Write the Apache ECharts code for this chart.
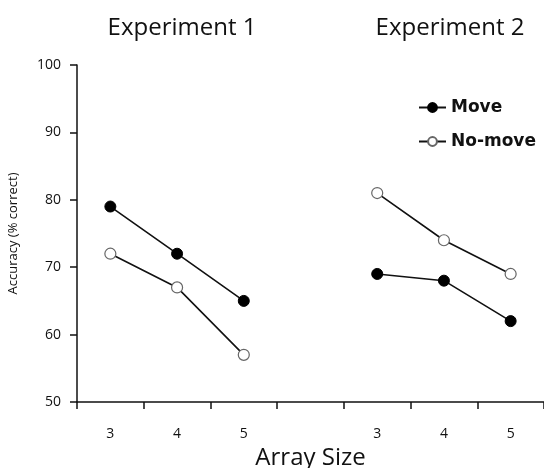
<!DOCTYPE html>
<html>
<head>
<meta charset="utf-8">
<script src="https://cdn.jsdelivr.net/npm/echarts@6/dist/echarts.min.js"></script>
<style>html,body{margin:0;padding:0;background:#fff}#c{width:544px;height:468px}</style>
</head>
<body>
<div id="c"></div>
<script>
var categories = ['3', '4', '5', '', '3', '4', '5'];
var moveValues = [79, 72, 65, null, 69, 68, 62];
var noMoveValues = [72, 67, 57, null, 81, 74, 69];
var yTicks = { min: 50, max: 100, interval: 10 };
var panelTitles = ['Experiment 1', 'Experiment 2'];

var chart = echarts.init(document.getElementById('c'));
var font = '"Open Sans", "Noto Sans", sans-serif';
chart.setOption({
  animation: false,
  backgroundColor: '#fff',
  title: [
    { text: panelTitles[0], left: 177, top: 11, textAlign: 'center',
      textStyle: { fontFamily: font, fontSize: 24, fontWeight: 'normal', color: '#111' } },
    { text: panelTitles[1], left: 445, top: 11, textAlign: 'center',
      textStyle: { fontFamily: font, fontSize: 24, fontWeight: 'normal', color: '#111' } }
  ],
  legend: {
    orient: 'vertical',
    left: 413,
    top: 94,
    itemWidth: 27,
    itemHeight: 11,
    itemGap: 17,
    textStyle: { fontFamily: '"DejaVu Sans", sans-serif', fontSize: 17, fontWeight: 'bold', color: '#111' },
    data: ['Move', 'No-move']
  },
  grid: { left: 77, right: 0, top: 65, bottom: 66, containLabel: false, outerBoundsMode: 'none' },
  xAxis: {
    type: 'category',
    data: categories,
    boundaryGap: true,
    name: 'Array Size',
    nameLocation: 'middle',
    nameGap: 41,
    nameTextStyle: { fontFamily: font, fontSize: 24, color: '#111' },
    axisLine: { lineStyle: { color: '#111', width: 1.5 } },
    axisTick: { show: true, length: 7, inside: false, alignWithLabel: false, lineStyle: { color: '#111', width: 1.5 } },
    axisLabel: { fontFamily: font, fontSize: 14, color: '#111', margin: 25 },
    splitLine: { show: false }
  },
  yAxis: {
    type: 'value',
    min: yTicks.min,
    max: yTicks.max,
    interval: yTicks.interval,
    name: 'Accuracy (% correct)',
    nameLocation: 'middle',
    nameRotate: 90,
    nameGap: 57,
    nameTextStyle: { fontFamily: font, fontSize: 13, color: '#111' },
    axisLine: { show: true, lineStyle: { color: '#111', width: 1.5 } },
    axisTick: { show: true, length: 7, lineStyle: { color: '#111', width: 1.5 } },
    axisLabel: { fontFamily: font, fontSize: 14, color: '#111', margin: 16 },
    splitLine: { show: false }
  },
  series: [
    {
      name: 'Move', type: 'line', data: moveValues, connectNulls: false,
      symbol: 'circle', symbolSize: 11,
      lineStyle: { color: '#111', width: 1.6 },
      itemStyle: { color: '#000', borderColor: '#000', borderWidth: 1 }
    },
    {
      name: 'No-move', type: 'line', data: noMoveValues, connectNulls: false,
      symbol: 'circle', symbolSize: 11,
      lineStyle: { color: '#111', width: 1.6 },
      itemStyle: { color: '#fff', borderColor: '#666', borderWidth: 1.2 }
    }
  ]
});
</script>
</body>
</html>
